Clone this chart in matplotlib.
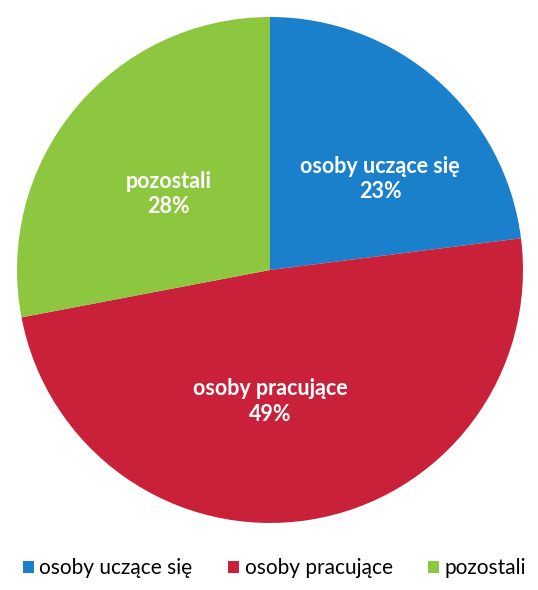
import matplotlib.pyplot as plt
from matplotlib.patches import Patch

labels = ['osoby uczące się', 'osoby pracujące', 'pozostali']
shares = [23, 49, 28]
colors = ['#1b80cc', '#c9213a', '#8dc63f']

# where the in-slice labels sit (pie units), like the original chart
label_xy = [(0.435, 0.36), (0.0, -0.52), (-0.40, 0.30)]

plt.rcParams['font.family'] = ['Lato', 'DejaVu Sans']

fig = plt.figure(figsize=(5.38, 5.90), dpi=100)
ax = fig.add_axes([0.0316, 0.1136, 0.9405, 0.8576])

wedges, texts, autotexts = ax.pie(
    shares, colors=colors, startangle=90, counterclock=False,
    radius=1, autopct=lambda p: '',
    wedgeprops=dict(linewidth=0))

for i, t in enumerate(autotexts):
    t.set_text(f'{labels[i]}\n{shares[i]}%')
    t.set_position(label_xy[i])
    t.set_color('white')
    t.set_fontsize(15.5)
    t.set_fontweight('bold')
    t.set_ha('center')
    t.set_va('center')
    t.set_linespacing(1.25)

ax.set_xlim(-1, 1)
ax.set_ylim(-1, 1)
ax.set_aspect('equal')
ax.axis('off')

handles = [Patch(facecolor=c, edgecolor='none') for c in colors]
fig.legend(handles, labels, loc='lower center', bbox_to_anchor=(0.51, -0.012),
           ncol=3, frameon=False, fontsize=15, handlelength=0.55,
           handleheight=0.55, handletextpad=0.25, columnspacing=1.7)

fig.savefig('out.png', dpi=100)
